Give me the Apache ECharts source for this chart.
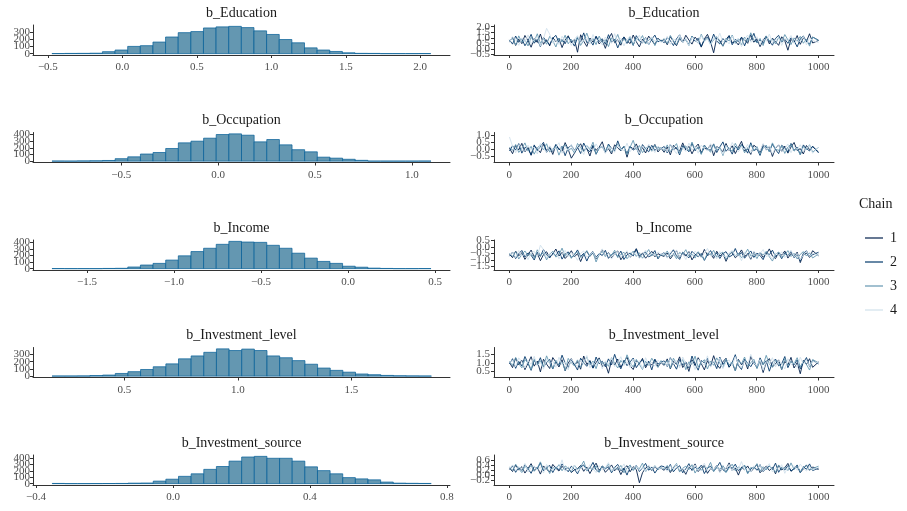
<!DOCTYPE html>
<html><head><meta charset="utf-8">
<script src="https://cdn.jsdelivr.net/npm/echarts@6/dist/echarts.min.js"></script>
<style>html,body{margin:0;padding:0;background:#fff}#chart{width:907px;height:511px}</style>
</head><body><div id="chart"></div>
<script>
// ---------- DATA ----------
const params = ['b_Education','b_Occupation','b_Income','b_Investment_level','b_Investment_source'];
const chainNames = ['1','2','3','4'];

// histogram bins: first lower edge and bin width, then counts per bin
const histStart = [-0.473, -0.857, -1.701, 0.181, -0.353];
const histWidth = [0.0848, 0.0652, 0.0726, 0.0557, 0.0369];
const eduCounts = [1,3,4,6,27,50,100,110,160,230,290,305,355,370,377,360,315,265,195,150,80,50,30,12,4,3,0,0,0,1];
const occCounts = [1,0,3,5,10,37,65,107,130,190,275,300,345,400,410,390,290,325,245,172,140,60,45,28,12,0,0,0,0,1];
const incCounts = [1,0,0,0,3,5,25,55,80,130,195,260,310,370,415,405,400,355,310,235,160,110,80,37,22,8,3,0,0,1];
const lvlCounts = [2,2,3,8,15,37,62,92,130,170,240,280,330,378,355,375,355,280,255,215,165,112,80,55,30,20,10,5,3,2];
const srcCounts = [3,0,0,1,2,3,8,10,40,70,115,155,225,270,355,420,430,400,400,355,265,205,155,95,75,60,25,8,5,3];

// tick labels
const histXTicks = [[-0.5,0,0.5,1,1.5,2],[-0.5,0,0.5,1],[-1.5,-1,-0.5,0,0.5],[0.5,1,1.5],[-0.4,0,0.4,0.8]];
const traceXTicks = [0,200,400,600,800,1000];
const traceYTicks = [[-0.5,0,0.5,1,1.5,2],[-0.5,0,0.5,1],[-1.5,-1,-0.5,0,0.5],[0.5,1,1.5],[-0.2,0,0.2,0.4,0.6]];

// sampled iterations for the traces
const iterations = [1,11,21,31,41,51,61,71,81,91,101,111,121,131,141,151,161,171,181,191,201,211,221,231,241,251,261,271,281,291,301,311,321,331,341,351,361,371,381,391,401,411,421,431,441,451,461,471,481,491,501,511,521,531,541,551,561,571,581,591,601,611,621,631,641,651,661,671,681,691,701,711,721,731,741,751,761,771,781,791,801,811,821,831,841,851,861,871,881,891,901,911,921,931,941,951,961,971,981,1000];

const eduC1 = [0.62,1.05,0.31,0.88,0.47,1.21,0.74,0.15,0.93,0.58,1.34,0.41,0.82,0.27,1.02,0.66,0.95,0.12,0.79,1.18,0.53,0.86,-0.3,1.27,0.69,0.22,0.98,0.61,1.12,0.44,0.77,0.05,0.91,1.39,0.56,0.83,0.33,1.08,0.71,0.48,1.25,0.64,0.18,0.89,0.52,1.15,0.76,0.39,0.97,0.68,
  0.84,0.37,1.11,0.66,0.29,0.94,0.57,1.23,0.8,0.43,1.06,0.72,0.16,0.9,1.31,0.62,-0.35,1.0,0.75,0.25,0.87,1.19,0.54,0.7,0.35,1.03,0.81,0.5,1.28,0.6,0.92,0.2,0.78,1.14,0.45,0.97,0.65,0.32,1.09,0.73,-0.12,0.86,0.58,1.2,0.41,0.99,0.67,1.36,0.53,0.76];
const eduC2 = [0.81,0.43,1.16,0.59,0.92,0.28,0.73,1.31,0.51,0.87,0.19,1.04,0.65,0.38,0.96,1.22,0.57,0.84,0.46,1.09,0.71,0.25,0.99,0.62,1.44,0.55,0.79,0.34,1.13,0.68,0.91,0.42,1.28,0.6,0.85,0.09,0.75,1.06,0.49,0.94,0.31,1.19,0.72,0.54,1.01,0.37,0.88,1.24,0.63,0.8,
  0.55,1.02,0.74,0.3,0.91,1.27,0.63,0.84,0.4,1.15,0.69,0.96,0.23,0.79,1.08,0.52,1.33,0.71,0.44,0.93,0.6,1.18,0.37,0.85,0.66,1.05,0.27,0.98,0.76,1.4,0.56,0.82,0.47,1.12,0.7,0.33,0.95,1.22,0.61,0.87,0.5,1.0,0.74,0.18,0.9,1.16,0.64,0.42,1.07,0.78];
const eduC3 = [0.7,0.96,0.35,1.17,0.6,0.83,0.26,1.05,0.67,1.36,0.5,0.9,0.42,1.12,0.74,0.17,0.98,0.61,1.23,0.46,0.85,0.55,1.09,0.31,0.78,1.42,0.64,0.93,0.39,1.15,0.57,0.82,0.21,1.0,0.69,1.3,0.48,0.87,0.6,1.11,0.36,0.95,0.73,1.2,0.44,0.8,1.02,0.29,0.9,0.66,
  0.92,0.48,1.21,0.73,0.39,1.03,0.6,0.86,0.28,1.14,0.77,0.53,1.32,0.68,0.95,0.41,0.83,1.1,0.58,0.24,0.97,0.71,1.25,0.5,0.89,0.36,1.07,0.65,1.45,0.79,0.55,0.94,0.3,1.17,0.72,0.86,0.45,1.03,0.62,1.29,0.81,0.38,0.99,0.69,1.13,0.51,0.88,0.25,1.06,0.74];
const eduC4 = [0.58,1.1,0.77,0.32,0.99,0.63,1.26,0.45,0.86,1.05,0.24,0.92,1.85,1.33,0.52,0.81,0.4,1.14,0.67,0.97,0.3,0.88,1.19,0.56,0.75,1.02,0.43,1.29,0.62,0.9,0.34,1.07,0.79,0.5,1.37,0.65,0.94,0.27,0.84,1.16,0.59,0.72,1.24,0.47,0.96,0.38,1.08,0.69,0.83,0.61,
  0.67,1.13,0.41,0.89,0.72,1.3,0.55,0.95,0.28,1.06,0.8,0.48,1.2,0.64,0.91,0.35,1.01,0.76,1.41,0.59,0.85,0.44,1.17,0.7,0.98,0.21,0.88,1.25,0.6,0.78,1.09,0.39,0.93,0.68,1.34,0.53,0.82,1.04,0.31,0.96,0.73,1.21,0.49,0.87,0.63,1.12,0.37,0.99,0.75,0.57];

const occC1 = [0.08,-0.31,0.27,-0.05,0.41,-0.18,0.12,-0.42,0.22,0.03,-0.24,0.35,-0.09,0.17,-0.36,0.29,0.01,-0.15,0.46,-0.02,-0.62,-0.28,0.1,0.38,-0.12,0.06,-0.47,0.25,-0.07,0.14,0.52,-0.2,0.04,-0.33,0.31,0.09,-0.11,0.21,-0.55,0.16,0.02,0.37,-0.16,0.11,-0.26,0.24,-0.04,0.33,-0.19,0.07,
  -0.21,0.16,-0.39,0.27,0.03,-0.13,0.44,-0.06,0.2,-0.32,0.12,0.36,-0.24,0.08,-0.01,0.31,-0.45,0.18,0.05,-0.17,0.4,-0.08,0.24,-0.3,0.13,0.55,-0.12,0.02,-0.36,0.28,0.1,-0.22,0.34,-0.04,0.19,-0.5,0.07,0.3,-0.15,0.22,-0.27,0.15,0.47,-0.09,0.04,-0.33,0.26,-0.02,0.17,-0.19];
const occC2 = [-0.12,0.24,-0.06,0.39,-0.27,0.13,0.02,-0.38,0.3,-0.1,0.18,0.48,-0.21,0.07,-0.14,0.34,-0.03,0.2,-0.45,0.11,0.28,-0.08,0.15,-0.3,0.43,0.0,-0.17,0.26,-0.35,0.09,0.19,-0.23,0.36,0.05,-0.13,0.58,-0.01,0.14,-0.29,0.22,-0.06,0.1,-0.4,0.32,0.03,-0.18,0.27,-0.09,0.16,0.04,
  0.19,-0.26,0.33,-0.03,0.11,-0.4,0.25,0.06,-0.18,0.42,-0.11,0.14,-0.31,0.29,0.0,-0.07,0.37,-0.23,0.16,0.51,-0.14,0.08,-0.34,0.21,-0.05,0.32,0.12,-0.27,0.45,-0.1,0.03,-0.43,0.23,0.17,-0.16,0.35,-0.02,-0.3,0.27,0.09,-0.2,0.4,-0.08,0.14,-0.37,0.3,0.05,-0.12,0.22,-0.25];
const occC3 = [0.15,-0.08,0.33,-0.22,0.06,0.44,-0.13,0.2,-0.34,0.1,0.27,-0.04,0.38,-0.19,0.01,0.23,-0.41,0.13,0.31,-0.1,0.07,-0.26,0.4,0.12,-0.16,0.25,-0.02,0.49,-0.31,0.08,0.18,-0.11,0.3,-0.2,0.04,0.35,-0.07,0.21,-0.37,0.14,0.62,-0.05,0.26,-0.24,0.09,0.17,-0.14,0.29,-0.01,0.11,
  -0.09,0.3,-0.17,0.12,0.39,-0.28,0.07,0.23,-0.12,0.5,-0.03,0.17,-0.36,0.26,0.04,-0.21,0.33,-0.06,0.14,-0.44,0.21,0.09,-0.15,0.41,-0.01,0.27,-0.25,0.1,0.36,-0.1,0.18,-0.32,0.06,0.29,-0.19,0.44,0.01,-0.08,0.24,-0.29,0.15,0.34,-0.13,0.08,-0.4,0.2,-0.04,0.31,-0.2,0.12];
const occC4 = [0.85,0.21,-0.25,0.32,0.05,-0.14,0.28,-0.07,0.16,-0.33,0.4,0.02,-0.19,0.24,-0.09,0.13,0.45,-0.28,0.09,-0.04,0.34,-0.16,0.19,0.03,-0.37,0.26,0.11,-0.12,0.37,-0.02,0.22,-0.29,0.14,0.06,-0.21,0.3,0.0,-0.1,0.42,-0.17,0.18,0.07,-0.3,0.23,-0.06,0.35,0.12,-0.23,0.2,0.01,
  0.1,-0.2,0.35,0.0,-0.31,0.22,0.08,-0.15,0.43,-0.05,0.17,-0.27,0.29,0.04,-0.11,0.38,-0.22,0.13,0.02,-0.35,0.26,-0.07,0.47,0.09,-0.18,0.2,-0.03,0.33,-0.26,0.15,0.06,-0.13,0.4,-0.09,0.24,-0.33,0.11,0.28,-0.17,0.03,0.36,-0.24,0.19,-0.01,0.31,-0.14,0.07,0.25,-0.28,0.14];

const incC1 = [-0.55,-0.82,-0.31,-0.67,-0.44,-0.95,-0.6,-0.23,-0.74,-0.49,-1.05,-0.58,-0.36,-0.8,-0.52,-0.15,-0.69,-0.41,-0.88,-0.62,-0.28,-0.76,-0.5,-1.12,-0.57,-0.34,-0.71,-0.46,-0.9,-0.6,-0.2,-0.66,-0.43,-0.84,-0.53,-0.3,-0.98,-0.63,-0.39,-0.78,-0.55,-0.12,-0.7,-0.47,-0.86,-0.59,-0.33,-0.75,-0.51,-0.64,
  -0.72,-0.45,-0.91,-0.58,-0.26,-0.81,-0.5,-0.68,-0.35,-0.99,-0.61,-0.42,-0.77,-0.18,-0.64,-0.53,-0.87,-0.32,-0.7,-0.48,-1.1,-0.57,-0.4,-0.83,-0.6,-0.22,-0.73,-0.51,-0.94,-0.37,-0.66,-0.45,-0.79,-0.55,-0.14,-0.69,-0.89,-0.43,-0.62,-0.3,-0.85,-0.5,-0.74,-0.39,-1.2,-0.59,-0.46,-0.8,-0.28,-0.67];
const incC2 = [-0.7,-0.38,-0.89,-0.51,-0.26,-0.77,-0.45,-0.63,-1.0,-0.4,-0.72,-0.18,-0.59,-0.84,-0.47,-0.66,-0.29,-0.93,-0.54,-0.37,-0.8,-0.61,-0.22,-0.73,-0.48,-1.08,-0.56,-0.35,-0.79,-0.5,-0.65,-0.25,-0.87,-0.58,-0.42,-0.74,-0.31,-0.96,-0.6,-0.46,-0.69,-0.17,-0.83,-0.53,-0.38,-0.76,-0.62,-0.27,-0.91,-0.57,
  -0.44,-0.79,-0.53,-0.21,-0.68,-0.95,-0.4,-0.62,-0.83,-0.33,-0.57,-0.74,-0.49,-1.03,-0.6,-0.27,-0.71,-0.45,-0.88,-0.52,-0.35,-0.76,-0.63,-0.11,-0.69,-0.42,-0.86,-0.56,-0.3,-0.8,-0.47,-0.65,-0.97,-0.38,-0.6,-0.24,-0.73,-0.5,-0.9,-0.43,-0.66,-0.34,-0.82,-0.55,-1.06,-0.48,-0.29,-0.71,-0.59,-0.4];
const incC3 = [-0.48,-0.73,-0.35,-0.92,-0.57,-0.3,-0.68,-0.5,-0.85,-0.21,-0.64,-0.43,-0.99,-0.55,-0.32,-0.77,-0.6,-0.08,-0.71,-0.45,-0.87,-0.52,-0.37,-0.81,-0.62,-0.27,-0.7,-0.41,-1.15,-0.58,-0.34,-0.75,-0.49,-0.66,-0.24,-0.82,-0.56,-0.4,-0.9,-0.61,-0.31,-0.72,-0.44,-0.86,-0.54,-0.19,-0.67,-0.5,-0.79,-0.6,
  -0.63,-0.3,-0.76,-0.49,-0.9,-0.41,-0.58,-0.2,-0.72,-0.54,-0.85,-0.36,-0.66,-1.0,-0.47,-0.61,-0.25,-0.78,-0.52,-0.39,-0.93,-0.64,-0.31,-0.7,-0.46,-0.82,-0.57,-0.16,-0.68,-0.5,-0.89,-0.43,-0.6,-0.33,-0.75,-1.08,-0.55,-0.38,-0.8,-0.62,-0.27,-0.73,-0.48,-0.92,-0.56,-0.35,-0.69,-0.44,-0.84,-0.53];
const incC4 = [-0.62,-0.4,-0.81,-0.27,-0.7,-0.53,-0.97,-0.46,-0.33,-0.75,0.15,-0.2,-0.84,-0.5,-0.66,-0.36,-0.9,-0.55,-0.25,-0.72,-0.44,-0.63,-1.02,-0.49,-0.3,-0.78,-0.57,-0.39,-0.85,-0.6,-0.14,-0.69,-0.47,-0.93,-0.54,-0.35,-0.74,-0.61,-0.28,-0.8,-0.52,-0.42,-0.88,-0.58,-0.23,-0.71,-0.45,-0.65,-0.37,-0.56,
  -0.5,-0.86,-0.37,-0.65,-0.22,-0.77,-0.54,-0.96,-0.43,-0.7,-0.31,-0.59,-0.83,-0.47,-0.1,-0.68,-0.55,-0.9,-0.34,-0.63,-0.78,-0.45,-0.26,-0.71,-0.58,-1.05,-0.4,-0.62,-0.85,-0.3,-0.67,-0.51,-0.19,-0.74,-0.6,-0.94,-0.44,-0.69,-0.36,-0.81,-0.57,-0.24,-0.76,-0.49,-0.99,-0.61,-0.32,-0.73,-0.46,-0.64];

const lvlC1 = [1.02,0.71,1.28,0.88,1.15,0.59,0.97,1.36,0.8,1.1,0.46,1.21,0.92,0.66,1.31,1.04,0.75,1.18,0.52,0.99,1.25,0.84,1.07,0.62,1.4,0.9,1.13,0.69,1.01,1.29,0.78,0.95,0.38,1.16,0.86,1.22,0.73,1.05,1.33,0.82,0.6,1.12,0.94,1.26,0.7,1.03,0.87,1.19,0.77,1.0,
  0.85,1.23,0.64,1.09,0.91,1.35,0.72,1.0,0.49,1.18,0.83,1.3,0.95,0.58,1.12,0.79,1.42,0.9,0.67,1.06,1.27,0.74,0.98,0.53,1.2,0.88,1.15,0.63,1.38,0.96,0.8,1.1,0.42,1.03,1.25,0.76,0.93,1.17,0.6,1.08,0.86,1.32,0.69,1.01,0.35,1.14,0.9,1.24,0.73,1.05];
const lvlC2 = [0.93,1.24,0.67,1.08,0.81,1.37,0.96,0.55,1.14,0.89,1.3,0.74,1.01,1.2,0.63,1.06,0.85,1.45,0.98,0.72,1.17,0.91,0.57,1.27,1.0,0.79,1.11,0.68,1.34,0.94,1.09,0.76,1.23,0.87,1.5,0.97,0.64,1.15,0.83,1.05,1.28,0.71,0.99,1.19,0.8,1.1,0.58,1.21,0.92,1.04,
  1.11,0.78,1.3,0.95,0.62,1.19,0.87,1.05,0.7,1.4,0.92,0.56,1.13,0.99,1.26,0.81,1.07,0.65,1.33,0.89,1.16,0.74,1.02,1.48,0.84,0.6,1.21,0.97,0.77,1.09,0.68,1.29,0.9,1.12,0.5,1.03,1.22,0.82,0.94,1.37,0.71,1.08,0.88,1.17,0.64,1.0,1.31,0.79,1.14,0.93];
const lvlC3 = [1.08,0.84,1.32,0.95,0.7,1.19,1.0,0.61,1.23,0.9,1.12,0.78,1.41,0.96,0.66,1.15,0.88,1.06,0.54,1.26,0.99,0.82,1.17,0.73,1.03,1.35,0.86,1.1,0.65,1.22,0.93,1.04,0.79,1.3,0.97,0.69,1.14,0.89,1.47,1.01,0.75,1.2,0.91,0.6,1.09,0.85,1.27,0.98,0.72,1.13,
  0.89,1.14,0.68,1.27,0.96,0.8,1.2,0.59,1.06,0.91,1.39,0.75,1.01,1.18,0.63,1.1,0.85,1.29,0.97,0.7,1.23,0.88,1.05,0.52,1.16,0.94,1.34,0.78,1.0,1.21,0.66,1.09,0.87,1.44,0.92,0.73,1.13,1.02,0.61,1.25,0.83,1.07,0.95,1.3,0.76,1.11,0.9,0.57,1.19,1.0];
const lvlC4 = [0.98,1.17,0.76,1.29,1.05,0.68,1.13,0.9,1.38,0.81,1.02,0.62,1.2,0.94,1.1,0.73,1.33,0.87,1.07,0.58,1.24,0.96,0.79,1.16,0.92,1.43,0.7,1.04,0.85,1.18,0.64,1.11,0.93,1.26,0.77,1.0,1.36,0.83,1.07,0.71,1.21,0.95,1.12,0.66,1.3,0.89,1.03,0.8,1.15,0.97,
  1.06,0.81,1.25,0.92,1.13,0.69,1.34,0.96,0.77,1.08,0.6,1.22,0.99,0.86,1.41,0.74,1.1,0.9,1.28,0.65,1.02,1.17,0.83,1.36,0.95,0.71,1.12,0.88,1.5,1.0,0.79,1.19,0.56,1.07,0.93,1.3,0.75,1.14,0.97,0.63,1.24,0.89,1.04,0.72,1.33,0.91,1.16,0.82,1.08,0.98];

const srcC1 = [0.28,0.14,0.39,0.21,0.33,0.08,0.26,0.45,0.18,0.31,0.04,0.36,0.23,0.12,0.42,0.27,0.16,0.35,0.2,0.3,0.1,0.21,0.25,0.38,0.15,0.32,0.06,0.29,0.47,0.19,0.34,0.11,0.24,0.4,0.17,0.3,0.02,0.26,0.37,0.13,0.33,0.22,-0.3,0.09,0.28,0.35,0.18,0.31,0.24,0.27,
  0.19,0.34,0.1,0.29,0.41,0.16,0.25,0.03,0.32,0.22,0.44,0.14,0.3,0.37,0.07,0.26,0.2,0.39,0.12,0.33,0.24,0.48,0.17,0.28,0.0,0.31,0.21,0.36,0.13,0.27,0.42,0.09,0.23,0.35,0.18,0.3,0.05,0.38,0.2,0.29,0.46,0.15,0.26,0.33,0.11,0.24,0.4,0.19,0.32,0.22];
const srcC2 = [0.22,0.37,0.11,0.3,0.19,0.41,0.26,0.07,0.34,0.24,0.48,0.16,0.29,0.38,0.1,0.32,0.21,0.44,0.27,0.13,0.35,0.23,0.05,0.31,0.4,0.18,0.28,0.5,0.2,0.12,0.36,0.25,0.33,0.09,0.3,0.42,0.17,0.27,0.0,0.34,0.22,0.39,0.14,0.29,0.46,0.19,0.32,0.08,0.26,0.36,
  0.33,0.2,0.42,0.13,0.28,0.37,0.09,0.25,0.45,0.18,0.31,0.23,0.39,0.06,0.27,0.35,0.15,0.3,0.5,0.21,0.12,0.34,0.26,0.43,0.17,0.29,0.38,0.08,0.24,0.32,0.19,0.41,0.14,0.28,0.36,0.22,0.47,0.11,0.3,0.2,0.37,0.16,0.25,0.4,0.1,0.33,0.23,0.44,0.18,0.27];
const srcC3 = [0.31,0.19,0.43,0.25,0.1,0.35,0.22,0.38,0.15,0.28,0.52,0.2,0.33,0.06,0.3,0.24,0.41,0.17,0.36,0.27,0.12,0.39,0.23,0.32,0.55,0.16,0.29,0.2,0.37,0.11,0.34,0.26,0.44,0.14,0.31,0.21,0.38,0.09,0.28,0.4,0.18,0.33,0.25,0.47,0.13,0.3,0.2,0.37,0.23,0.29,
  0.24,0.38,0.16,0.3,0.46,0.12,0.27,0.35,0.21,0.41,0.08,0.29,0.19,0.34,0.26,0.5,0.14,0.31,0.23,0.37,0.1,0.28,0.43,0.17,0.32,0.22,0.39,0.05,0.3,0.25,0.45,0.15,0.33,0.2,0.36,0.27,0.11,0.4,0.24,0.31,0.18,0.48,0.22,0.34,0.13,0.29,0.38,0.2,0.26,0.35];
const srcC4 = [0.26,0.4,0.17,0.33,0.23,0.46,0.12,0.29,0.36,0.2,0.31,0.08,0.42,0.27,0.18,0.35,0.24,0.6,0.15,0.32,0.22,0.39,0.13,0.28,0.34,0.19,0.41,0.25,0.1,0.37,0.21,0.3,0.49,0.16,0.27,0.35,0.23,0.44,0.11,0.32,0.26,0.38,0.19,0.3,0.14,0.4,0.22,0.33,0.28,0.24,
  0.3,0.15,0.37,0.22,0.44,0.19,0.28,0.11,0.35,0.25,0.4,0.18,0.32,0.47,0.14,0.27,0.21,0.38,0.09,0.31,0.26,0.42,0.16,0.34,0.23,0.53,0.2,0.29,0.12,0.36,0.24,0.39,0.17,0.3,0.45,0.13,0.28,0.22,0.41,0.07,0.33,0.25,0.37,0.19,0.43,0.27,0.16,0.34,0.21,0.3];

// ---------- LAYOUT / STYLE ----------
const histCounts = [eduCounts, occCounts, incCounts, lvlCounts, srcCounts];
const traceChains = [[eduC1,eduC2,eduC3,eduC4],[occC1,occC2,occC3,occC4],[incC1,incC2,incC3,incC4],[lvlC1,lvlC2,lvlC3,lvlC4],[srcC1,srcC2,srcC3,srcC4]];
const histXRange = [[-0.6,2.2],[-0.955,1.197],[-1.81,0.586],[0.097,1.934],[-0.409,0.809]];
const traceYRange = [[-0.55,2.15],[-0.919,1.16],[-1.77,0.547],[0.128,1.904],[-0.389,0.79]];
const chainColors = ['#011f4b','#03396c','#6497b1','#d1e1ec'];
const FONT = '"Liberation Serif","DejaVu Serif",serif';
const AX = '#333333', LBL = '#4d4d4d';
const LEFT_X = 33, LEFT_W = 417, RIGHT_X = 494, RIGHT_W = 340;
const TOP0 = 25, ROW_STEP = 107.5, PANEL_H = 30;
const LABEL_LAYERS = 3; // dense y labels are spread over overlaid axes so none is auto-hidden

const fmt1 = v => (v < 0 ? '\u2212' : '') + Math.abs(v).toFixed(1);

const grids = [], xAxes = [], yAxes = [], series = [], graphics = [];

function axisCommon(ticks, formatter, margin, showLine) {
  return {
    axisLine: { show: showLine !== false, onZero: false, lineStyle: { color: AX, width: 1 } },
    axisTick: { show: true, length: 3, customValues: ticks, lineStyle: { color: AX, width: 1 } },
    axisLabel: { customValues: ticks, formatter: formatter, margin: margin,
      showMinLabel: true, showMaxLabel: true, hideOverlap: false,
      fontFamily: FONT, fontSize: 11, color: LBL },
    splitLine: { show: false }
  };
}

// adds overlaid y axes on one grid; returns index of the main one
function addYAxes(gridIndex, min, max, ticks, formatter, margin) {
  const mainIndex = yAxes.length;
  for (let L = 0; L < LABEL_LAYERS; L++) {
    const sub = ticks.filter((t, k) => k % LABEL_LAYERS === L);
    yAxes.push(Object.assign({ type: 'value', gridIndex: gridIndex, min: min, max: max, position: 'left' },
      axisCommon(sub, formatter, margin, L === 0)));
  }
  return mainIndex;
}

for (let i = 0; i < 5; i++) {
  const top = TOP0 + ROW_STEP * i;
  const hi = 2 * i, ti = 2 * i + 1;
  // histogram panel
  grids.push({ left: LEFT_X, top: top, width: LEFT_W, height: PANEL_H });
  const counts = histCounts[i];
  const M = Math.max.apply(null, counts);
  const yTicks = [];
  for (let t = 0; t <= M * 1.05; t += 100) yTicks.push(t);
  xAxes.push(Object.assign({ type: 'value', gridIndex: hi, min: histXRange[i][0], max: histXRange[i][1] },
    axisCommon(histXTicks[i], fmt1, 7)));
  const hy = addYAxes(hi, -0.05 * M, 1.05 * M, yTicks, v => String(Math.round(v)), 3);
  const data = counts.map((c, k) => [histStart[i] + k * histWidth[i], histStart[i] + (k + 1) * histWidth[i], c]);
  series.push({
    type: 'custom', xAxisIndex: hi, yAxisIndex: hy, silent: true, animation: false,
    encode: { x: [0, 1], y: 2 }, data: data,
    renderItem: function (params, api) {
      const p0 = api.coord([api.value(0), api.value(2)]);
      const p1 = api.coord([api.value(1), 0]);
      return { type: 'rect',
        shape: { x: p0[0], y: p0[1], width: p1[0] - p0[0], height: p1[1] - p0[1] },
        style: { fill: '#6497b1', stroke: '#005b96', lineWidth: 0.7 } };
    }
  });
  graphics.push({ type: 'text', x: LEFT_X + LEFT_W / 2, y: top - 12,
    style: { text: params[i], font: '14px ' + FONT, fill: '#1a1a1a', textAlign: 'center', textVerticalAlign: 'middle' } });

  // trace panel
  grids.push({ left: RIGHT_X, top: top, width: RIGHT_W, height: PANEL_H });
  xAxes.push(Object.assign({ type: 'value', gridIndex: ti, min: -49, max: 1050 },
    axisCommon(traceXTicks, v => String(Math.round(v)), 7)));
  const ty = addYAxes(ti, traceYRange[i][0], traceYRange[i][1], traceYTicks[i], fmt1, 4);
  traceChains[i].forEach((vals, c) => {
    series.push({
      type: 'line', name: chainNames[c], xAxisIndex: ti, yAxisIndex: ty,
      data: vals.map((v, j) => [iterations[j], v]),
      showSymbol: false, symbol: 'none', silent: true, animation: false,
      color: chainColors[c], lineStyle: { width: 0.9, color: chainColors[c] }
    });
  });
  graphics.push({ type: 'text', x: RIGHT_X + RIGHT_W / 2, y: top - 12,
    style: { text: params[i], font: '14px ' + FONT, fill: '#1a1a1a', textAlign: 'center', textVerticalAlign: 'middle' } });
}

graphics.push({ type: 'text', x: 859, y: 204,
  style: { text: 'Chain', font: '14px ' + FONT, fill: '#1a1a1a', textAlign: 'left', textVerticalAlign: 'middle' } });

const chart = echarts.init(document.getElementById('chart'), null, { renderer: 'canvas' });
chart.setOption({
  backgroundColor: '#ffffff',
  animation: false,
  grid: grids, xAxis: xAxes, yAxis: yAxes, series: series,
  graphic: graphics,
  legend: {
    data: chainNames, orient: 'vertical', left: 860, top: 225,
    icon: 'rect', itemWidth: 18, itemHeight: 1.2, itemGap: 8, selectedMode: false,
    textStyle: { fontFamily: FONT, fontSize: 14, color: '#1a1a1a', lineHeight: 16, padding: [0, 0, 0, 2] }
  }
});
</script></body></html>
